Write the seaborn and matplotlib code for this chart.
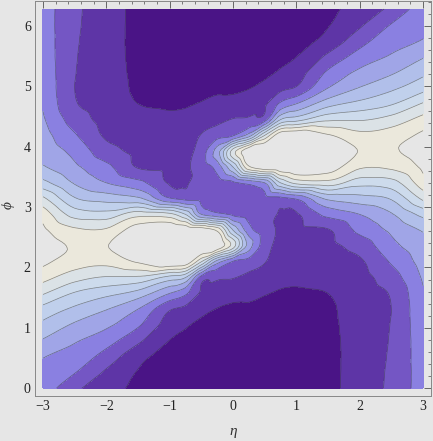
import matplotlib
matplotlib.use("Agg")
import matplotlib.pyplot as plt
import matplotlib.tri as mtri
import numpy as np
import seaborn as sns
from matplotlib.ticker import MultipleLocator

sns.set_theme(style="white")
plt.rcParams["font.family"] = ["Liberation Serif", "DejaVu Serif"]

BG = "#e6e6e6"

# grid of the contour field (eta across, phi up)
eta_values = [-3.0, -2.5, -2.0, -1.5, -1.0, -0.75, -0.5, -0.25, 0.0,
              0.25, 0.5, 0.75, 1.0, 1.5, 2.0, 2.5, 3.0]
phi_values = np.linspace(0, 2 * np.pi, 25)

# contour level, one column per eta value (phi from 0 to 2pi)
level_columns = [
    [3.5, 3.75, 4.05, 4.9, 5.75, 6.65, 8.1, 9.35, 10.2, 10.45, 10.2, 9.6, 8.2, 6.3, 5.1, 4.65, 4.4, 4.12, 3.92, 3.8, 3.7, 3.6, 3.55, 3.5, 3.5],
    [2.23, 3.05, 3.6, 4.1, 4.85, 5.8, 6.9, 8.4, 9.5, 9.9, 9.2, 7.6, 6.1, 4.9, 4.2, 3.7, 3.1, 2.55, 2.1, 2.0, 2.05, 2.1, 2.15, 2.2, 2.23],
    [1.45, 1.85, 2.6, 3.4, 4.2, 5.05, 6.3, 7.9, 9.3, 9.95, 9.15, 7.4, 5.6, 4.0, 3.25, 2.4, 1.85, 1.65, 1.55, 1.5, 1.45, 1.42, 1.42, 1.43, 1.45],
    [0.78, 0.95, 1.3, 2.2, 3.15, 4.0, 5.6, 7.8, 10.1, 11.0, 10.6, 8.6, 5.2, 3.3, 1.93, 1.75, 1.55, 1.3, 1.0, 0.85, 0.8, 0.77, 0.76, 0.77, 0.78],
    [0.6, 0.65, 0.72, 0.98, 1.5, 2.1, 4.0, 6.6, 11.0, 11.3, 11.1, 8.3, 3.1, 1.9, 1.8, 1.6, 1.42, 1.15, 0.9, 0.7, 0.58, 0.52, 0.5, 0.53, 0.6],
    [0.5, 0.55, 0.62, 0.8, 1.1, 1.75, 3.2, 6.0, 10.8, 11.3, 11.0, 7.0, 2.7, 1.9, 1.85, 1.65, 1.45, 1.2, 0.93, 0.72, 0.58, 0.5, 0.47, 0.47, 0.5],
    [0.42, 0.44, 0.5, 0.62, 0.82, 1.25, 1.85, 2.6, 8.0, 11.3, 10.8, 4.0, 2.7, 2.5, 2.5, 2.5, 2.05, 1.55, 1.05, 0.78, 0.6, 0.5, 0.45, 0.43, 0.42],
    [0.4, 0.41, 0.45, 0.55, 0.72, 0.97, 1.5, 2.2, 4.5, 11.0, 9.8, 3.3, 2.7, 2.6, 3.4, 4.5, 2.6, 1.75, 1.2, 0.88, 0.65, 0.5, 0.43, 0.41, 0.4],
    [0.4, 0.39, 0.41, 0.5, 0.65, 0.85, 1.3, 2.05, 2.9, 8.5, 6.0, 2.8, 2.7, 2.8, 6.0, 8.5, 2.9, 2.05, 1.3, 0.85, 0.65, 0.5, 0.41, 0.39, 0.4],
    [0.4, 0.41, 0.43, 0.5, 0.65, 0.88, 1.2, 1.75, 2.6, 4.5, 3.4, 2.6, 2.7, 3.3, 9.8, 11.0, 4.5, 2.2, 1.5, 0.97, 0.72, 0.55, 0.45, 0.41, 0.4],
    [0.42, 0.43, 0.45, 0.5, 0.6, 0.78, 1.05, 1.55, 2.05, 2.5, 2.5, 2.5, 2.7, 4.0, 10.8, 11.3, 8.0, 2.6, 1.85, 1.25, 0.82, 0.62, 0.5, 0.44, 0.42],
    [0.5, 0.47, 0.47, 0.5, 0.58, 0.72, 0.93, 1.2, 1.45, 1.65, 1.85, 1.9, 2.7, 7.0, 11.0, 11.3, 10.8, 6.0, 3.2, 1.75, 1.1, 0.8, 0.62, 0.55, 0.5],
    [0.6, 0.53, 0.5, 0.52, 0.58, 0.7, 0.9, 1.15, 1.42, 1.6, 1.8, 1.9, 3.1, 8.3, 11.1, 11.3, 11.0, 6.6, 4.0, 2.1, 1.5, 0.98, 0.72, 0.65, 0.6],
    [0.78, 0.77, 0.76, 0.77, 0.8, 0.85, 1.0, 1.3, 1.55, 1.75, 1.93, 3.3, 5.2, 8.6, 10.6, 11.0, 10.1, 7.8, 5.6, 4.0, 3.15, 2.2, 1.3, 0.95, 0.78],
    [1.45, 1.43, 1.42, 1.42, 1.45, 1.5, 1.55, 1.65, 1.85, 2.4, 3.25, 4.0, 5.6, 7.4, 9.15, 9.95, 9.3, 7.9, 6.3, 5.05, 4.2, 3.4, 2.6, 1.85, 1.45],
    [2.23, 2.2, 2.15, 2.1, 2.05, 2.0, 2.1, 2.55, 3.1, 3.7, 4.2, 4.9, 6.1, 7.6, 9.2, 9.9, 9.5, 8.4, 6.9, 5.8, 4.85, 4.1, 3.6, 3.05, 2.23],
    [3.5, 3.5, 3.55, 3.6, 3.7, 3.8, 3.92, 4.12, 4.4, 4.65, 5.1, 6.3, 8.2, 9.6, 10.2, 10.45, 10.2, 9.35, 8.1, 6.65, 5.75, 4.9, 4.05, 3.75, 3.5],
]

contour_levels = [-10, 1, 2, 3, 4, 5, 6, 7, 8, 9, 10]
band_colors = ["#4a1486", "#5e35a6", "#7456c4", "#8a80e1", "#a0a5e7",
               "#b1bfea", "#c0d0ec", "#cddbec", "#dbe2e6", "#ebe8dc"]

E, P = np.meshgrid(eta_values, phi_values)
Z = np.array(level_columns).T

# split every grid cell along the same diagonal
nx, ny = len(eta_values), len(phi_values)
cells = []
for j in range(ny - 1):
    for i in range(nx - 1):
        a = j * nx + i
        cells.append([a, a + 1, a + nx + 1])
        cells.append([a, a + nx + 1, a + nx])

tri = mtri.Triangulation(E.ravel(), P.ravel(), cells)
smoother = mtri.CubicTriInterpolator(tri, Z.ravel(), kind="geom")
refiner = mtri.UniformTriRefiner(tri)
tri_fine, z_fine = refiner.refine_field(Z.ravel(), triinterpolator=smoother, subdiv=3)

fig = plt.figure(figsize=(4.33, 4.41), dpi=100, facecolor=BG)
ax = fig.add_axes([35 / 433, 45 / 441, 396 / 433, 395 / 441])
ax.set_facecolor(BG)

ax.tricontourf(tri_fine, z_fine, levels=contour_levels, colors=band_colors)
ax.tricontour(tri_fine, z_fine, levels=contour_levels[1:], colors="#333333",
              linewidths=0.5, alpha=0.55)

ax.set_xlim(-3.126, 3.126)
ax.set_ylim(-0.13, 6.416)
ax.xaxis.set_major_locator(MultipleLocator(1))
ax.xaxis.set_minor_locator(MultipleLocator(0.2))
ax.yaxis.set_major_locator(MultipleLocator(1))
ax.yaxis.set_minor_locator(MultipleLocator(0.2))
ax.tick_params(which="both", direction="in", top=True, right=True,
               colors="#666666", labelcolor="#222222", labelsize=10, pad=3)
ax.tick_params(which="major", length=5, width=0.7)
ax.tick_params(which="minor", length=2.5, width=0.6)
for side in ax.spines.values():
    side.set_color("#888888")
    side.set_linewidth(0.7)

fig.text(233 / 433, 1 - 432 / 441, "η", fontsize=11, style="italic",
         ha="center", va="center", color="#333333")
fig.text(8 / 433, 1 - 205 / 441, "ϕ", fontsize=11, style="italic", rotation=90,
         ha="center", va="center", color="#333333")

fig.savefig("out.png", dpi=100, facecolor=BG)
